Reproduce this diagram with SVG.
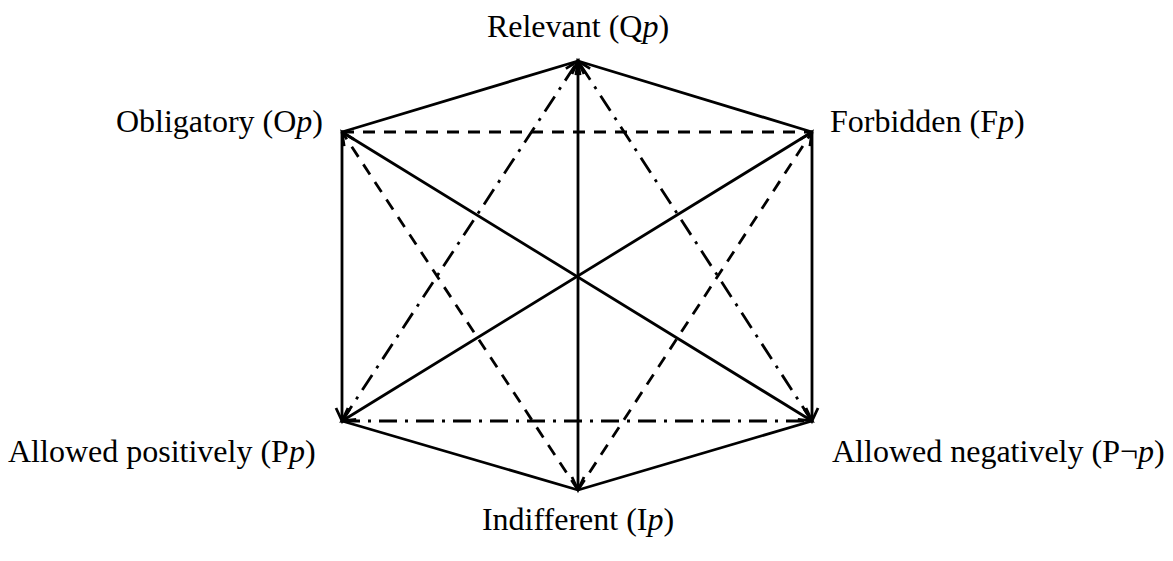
<svg xmlns="http://www.w3.org/2000/svg" width="1173" height="561" viewBox="0 0 1173 561">
<style>
text{font-family:"Liberation Serif","Times New Roman",serif;font-size:32px;fill:#000}
.e{fill:none;stroke:#000;stroke-width:2.8;stroke-linecap:butt}
.d{stroke-dasharray:12 9}
.dd{stroke-dasharray:18 8 3 8}
.i{font-style:italic}
</style>
<defs>
<marker id="a" markerUnits="userSpaceOnUse" markerWidth="30" markerHeight="30" refX="0" refY="0" viewBox="-15 -15 30 30" orient="auto-start-reverse" overflow="visible">
<path d="M-13,-6 L0,0 L-13,6" fill="none" stroke="#000" stroke-width="2.8"/>
</marker>
</defs>
<rect width="1173" height="561" fill="#fff"/>
<g id="connectors">
<line class="e" x1="342" y1="132" x2="578" y2="61"/>
<line class="e" x1="812" y1="132" x2="578" y2="61"/>
<line class="e" x1="342" y1="421" x2="578" y2="490"/>
<line class="e" x1="812" y1="421" x2="578" y2="490"/>
<line class="e" x1="578" y1="61" x2="578" y2="490" marker-start="url(#a)" marker-end="url(#a)"/>
<line class="e" x1="342" y1="132" x2="342" y2="421" marker-end="url(#a)"/>
<line class="e" x1="812" y1="132" x2="812" y2="421" marker-end="url(#a)"/>
<line class="e" x1="342" y1="132" x2="812" y2="421" marker-end="url(#a)"/>
<line class="e" x1="812" y1="132" x2="342" y2="421" marker-end="url(#a)"/>
<line class="e d" x1="342" y1="132" x2="812" y2="132"/>
<line class="e d" x1="578" y1="490" x2="342" y2="132" marker-end="url(#a)"/>
<line class="e d" x1="578" y1="490" x2="812" y2="132" marker-end="url(#a)"/>
<line class="e dd" x1="342" y1="421" x2="812" y2="421"/>
<line class="e dd" x1="342" y1="421" x2="578" y2="61" marker-end="url(#a)"/>
<line class="e dd" x1="812" y1="421" x2="578" y2="61" marker-end="url(#a)"/>
</g>
<g id="node-relevant"><text x="578" y="37" text-anchor="middle">Relevant (Q<tspan class="i">p</tspan>)</text></g>
<g id="node-obligatory"><text x="323" y="132" text-anchor="end">Obligatory (O<tspan class="i">p</tspan>)</text></g>
<g id="node-forbidden"><text x="830" y="132">Forbidden (F<tspan class="i">p</tspan>)</text></g>
<g id="node-allowed-positively"><text x="8" y="462">Allowed positively (P<tspan class="i">p</tspan>)</text></g>
<g id="node-allowed-negatively"><text x="832" y="462">Allowed negatively (P¬<tspan class="i">p</tspan>)</text></g>
<g id="node-indifferent"><text x="578" y="530" text-anchor="middle">Indifferent (I<tspan class="i">p</tspan>)</text></g>
</svg>
